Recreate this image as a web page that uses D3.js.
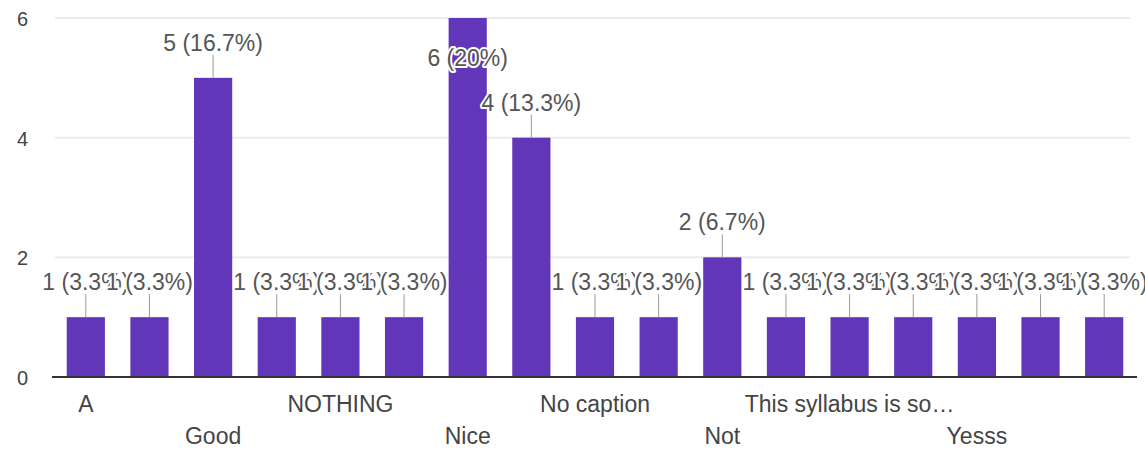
<!DOCTYPE html>
<html>
<head>
<meta charset="utf-8">
<script src="https://cdn.jsdelivr.net/npm/d3@7"></script>
<style>
  html, body { margin: 0; padding: 0; background: #fff; }
  svg { display: block; font-family: "Liberation Sans", Arial, sans-serif; }
</style>
</head>
<body>
<svg id="chart" width="1145" height="449"></svg>
<script>
// ---- data ----
const categories = [
  "A", "Awesome", "Good", "Interesting", "NOTHING", "Na", "Nice", "Nice one",
  "No caption", "No comments", "Not", "Ok", "This syllabus is so…", "Very good",
  "Yesss", "good", "nice"
];
const counts = [1, 1, 5, 1, 1, 1, 6, 4, 1, 1, 2, 1, 1, 1, 1, 1, 1];
const yTicks = [0, 2, 4, 6];
// which category labels are visible on the axis (every other one)
const shownLabels = ["A", "Good", "NOTHING", "Nice", "No caption", "Not", "This syllabus is so…", "Yesss"];

const total = d3.sum(counts);
const data = categories.map((c, i) => ({ cat: c, value: counts[i] }));

const svg = d3.select("#chart");
const x = d3.scaleBand().domain(categories).range([54, 1136]).paddingInner(0.4).paddingOuter(0.2);
const y = d3.scaleLinear().domain([0, 6]).range([377, 18]);

// gridlines
svg.append("g").selectAll("line").data(yTicks.filter(t => t > 0)).join("line")
  .attr("x1", 55).attr("x2", 1130)
  .attr("y1", d => y(d)).attr("y2", d => y(d))
  .attr("stroke", "#ececec").attr("stroke-width", 2);

// y tick labels
svg.append("g").selectAll("text").data(yTicks).join("text")
  .attr("x", 28).attr("y", d => y(d) + 1)
  .attr("text-anchor", "end").attr("dominant-baseline", "central")
  .attr("font-size", 20).attr("fill", "#444")
  .text(d => d);

// bars
svg.append("g").selectAll("rect").data(data).join("rect")
  .attr("x", d => x(d.cat)).attr("width", x.bandwidth())
  .attr("y", d => y(d.value)).attr("height", d => y(0) - y(d.value))
  .attr("fill", "#6136b8");

// baseline
svg.append("line").attr("x1", 52).attr("x2", 1137).attr("y1", y(0)).attr("y2", y(0))
  .attr("stroke", "#333").attr("stroke-width", 2);

// value labels with leader lines
const fmt = v => {
  const p = Math.round(v / total * 1000) / 10;
  return v + " (" + p + "%)";
};
const lab = svg.append("g");
data.forEach(d => {
  const cx = x(d.cat) + x.bandwidth() / 2;
  const top = y(d.value);
  const inside = top - 35 < 30;
  if (!inside) {
    lab.append("line").attr("x1", cx).attr("x2", cx)
      .attr("y1", top - 23).attr("y2", top)
      .attr("stroke", "#999").attr("stroke-width", 1);
  }
  lab.append("text")
    .attr("x", cx).attr("y", inside ? top + 40 : top - 35)
    .attr("text-anchor", "middle").attr("dominant-baseline", "central")
    .attr("font-size", 23).attr("fill", "#555")
    .attr("stroke", "#fff").attr("stroke-width", 4).attr("stroke-linejoin", "round")
    .attr("paint-order", "stroke")
    .text(fmt(d.value));
});

// category labels, alternating rows
const shown = data.filter(d => shownLabels.includes(d.cat));
svg.append("g").selectAll("text").data(shown).join("text")
  .attr("x", d => x(d.cat) + x.bandwidth() / 2)
  .attr("y", (d, i) => i % 2 === 0 ? 404 : 436)
  .attr("text-anchor", "middle").attr("dominant-baseline", "central")
  .attr("font-size", 23).attr("fill", "#444")
  .text(d => d.cat);
</script>
</body>
</html>
